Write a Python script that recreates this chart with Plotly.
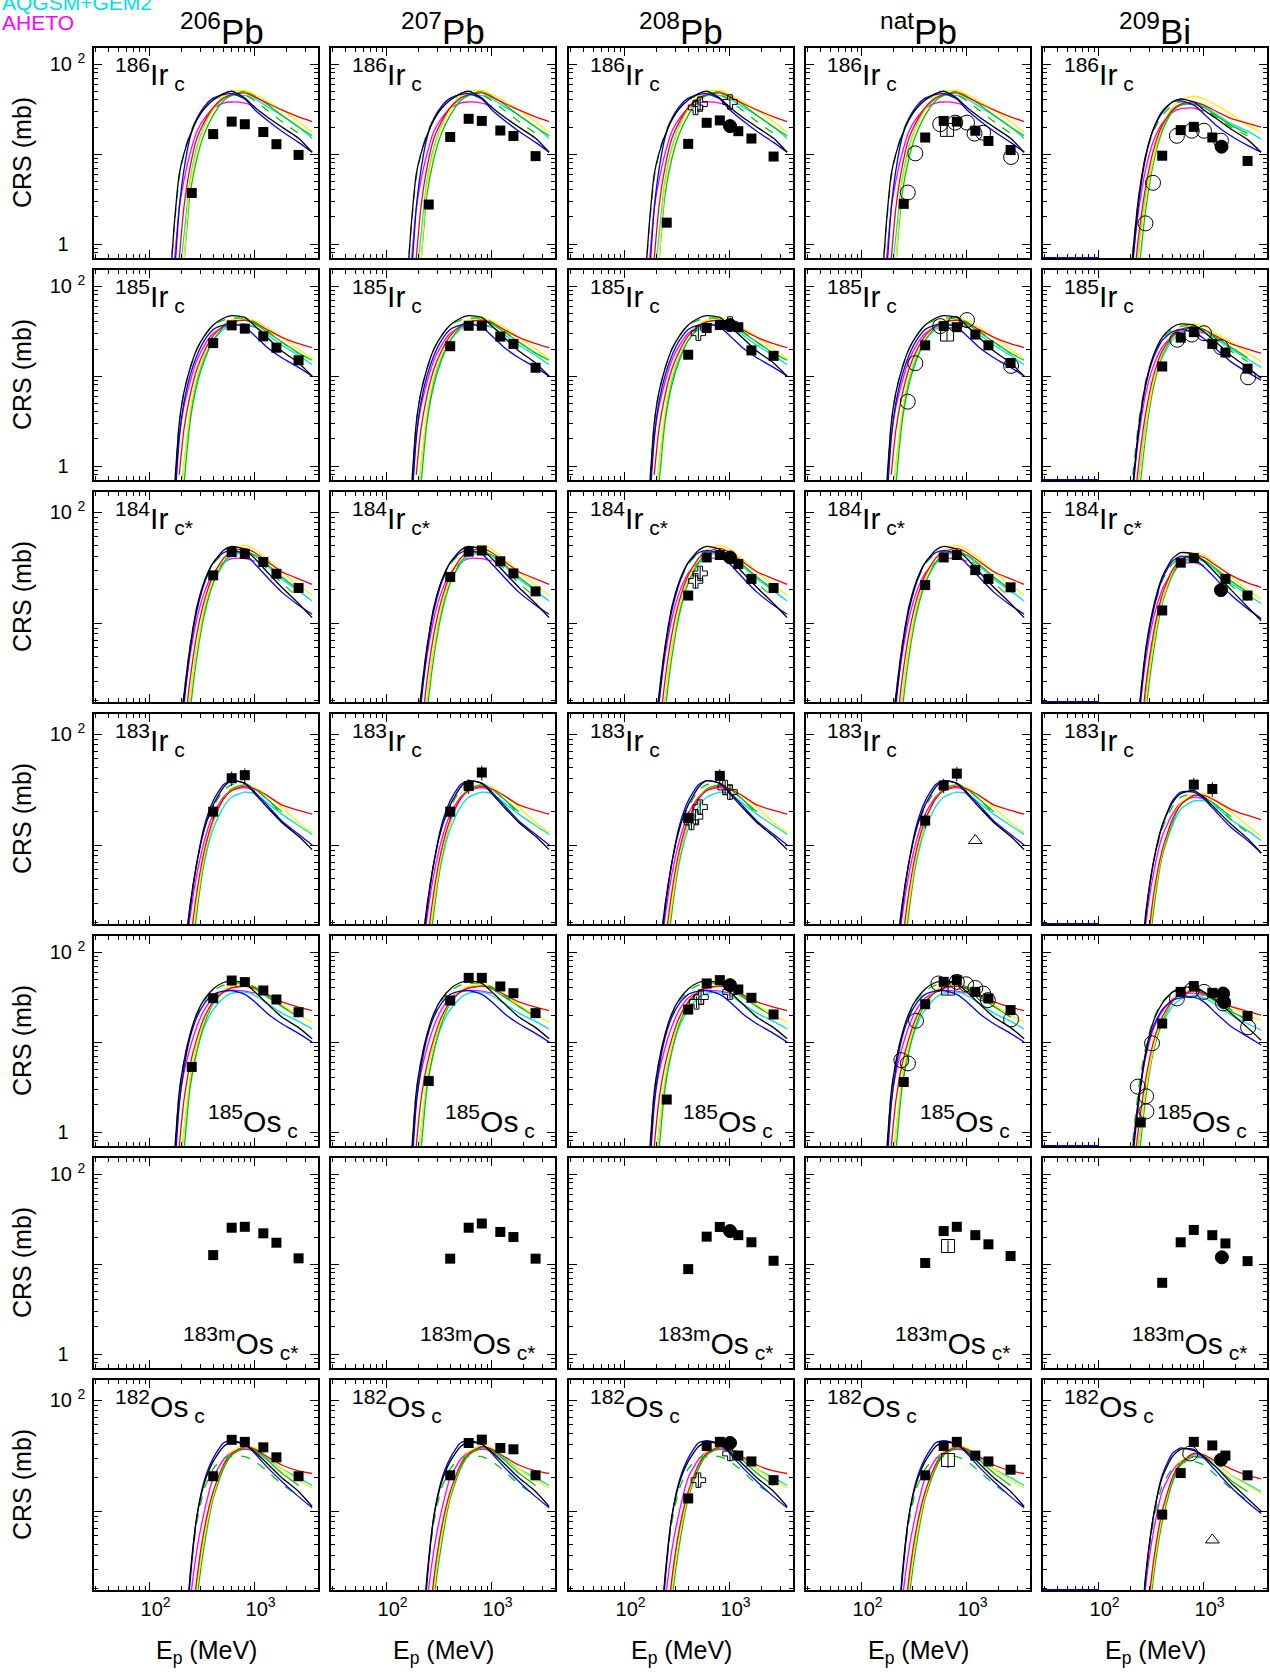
import plotly.graph_objects as go

N = None
# ---------------- data ----------------
targets = ["<sup>206</sup>Pb", "<sup>207</sup>Pb", "<sup>208</sup>Pb", "<sup>nat</sup>Pb", "<sup>209</sup>Bi"]
products = ["<sup>186</sup>Ir<sub> c</sub>", "<sup>185</sup>Ir<sub> c</sub>", "<sup>184</sup>Ir<sub> c*</sub>",
            "<sup>183</sup>Ir<sub> c</sub>", "<sup>185</sup>Os<sub> c</sub>", "<sup>183m</sup>Os<sub> c*</sub>",
            "<sup>182</sup>Os<sub> c</sub>"]
label_at_bottom = [False, False, False, False, True, True, False]
y_ranges = [[-0.155, 2.18], [-0.155, 2.18], [0.29, 2.18], [0.29, 2.18], [-0.155, 2.18], [-0.155, 2.18], [0.29, 2.18]]
x_range = [1.467, 3.6]

# model energy grid (MeV)
EG = [150, 170, 190, 210, 240, 280, 330, 400, 500, 600, 800, 1000, 1300, 1800, 2600, 3500]
model_order = ["magenta", "cyan", "green", "yellow", "red", "gdash", "blue", "black"]

ir186_pb = {
    "black":   [0.2, 1.6, 6, 10, 16, 24, 32, 40, 47, 50, 42, 33, 26, 20, 15, 10.5],
    "blue":    [0.05, 0.4, 2.5, 6.5, 15, 25, 34, 42, 46, 47, 41, 31, 24, 18, 13.5, 10.5],
    "red":     [N, 0.2, 0.7, 2.5, 7, 15, 23, 33, 42, 46, 48, 43, 37, 31, 26, 23],
    "yellow":  [N, N, 0.15, 0.6, 4.5, 11, 20, 31, 44, 50, 51, 46, 39, 31, 23, 17.3],
    "green":   [N, N, 0.2, 0.6, 3.5, 9, 17, 27, 39, 45, 50, 44, 36, 27, 20, 16],
    "cyan":    [N, 0.1, 0.4, 1.2, 5, 12, 21, 32, 41, 45, 45, 41, 34, 27, 20, 15],
    "magenta": [0.1, 0.6, 2.5, 5, 10, 18, 25, 32, 37, 38, 37, 34, N, N, N, N],
    "gdash":   [0.2, 1.5, 5.5, 10, 17, 25, 33, 40, 45, 47, 46, 39, 31, 23, 17, N],
}
ir185_pb = {
    "black":   [0.05, 0.5, 3.0, 6.5, 12, 20, 28, 37, 44, 47, 45, 36, 27, 19, 14, 10],
    "blue":    [N, 0.3, 2, 5, 10, 17, 25, 33, 37, 38, 35, 28, 21, 16, 12.5, 10],
    "red":     [N, N, 0.8, 2.5, 6, 12, 19, 28, 36, 40, 42, 39, 33, 27, 23, 20.7],
    "yellow":  [N, N, 0.3, 1.0, 4, 10, 18, 28, 37, 42, 44, 41, 35, 27, 20, 15.6],
    "green":   [N, N, 0.2, 0.6, 3, 8, 15, 25, 35, 40, 42, 38, 31, 24, 18, 15],
    "cyan":    [N, N, 0.3, 1, 3.5, 9, 16, 25, 33, 37, 38, 35, 29, 22, 17, 13.4],
    "magenta": [N, 0.4, 2.2, 4.5, 8.5, 15, 22, 30, 35, 37, 37, 35, N, N, N, N],
    "gdash":   [0.05, 0.5, 3, 6.5, 12, 20, 28, 37, 42, 44, 44, 40, 32, 24, 18, N],
}
ir184_pb = {
    "black":   [N, 0.3, 0.9, 2.2, 6, 14, 24, 35, 45, 49, 46, 38, 29, 21, 15, 11.2],
    "blue":    [N, 0.2, 0.7, 1.8, 5.5, 13, 23, 35, 43, 45, 42, 34, 26, 19, 14.5, 12],
    "red":     [N, N, 0.3, 0.9, 3, 8, 16, 27, 38, 44, 47, 43, 36, 29, 25, 22.3],
    "yellow":  [N, N, 0.15, 0.5, 2, 6, 14, 25, 38, 46, 50, 46, 38, 29, 22, 17.8],
    "green":   [N, N, 0.1, 0.3, 1.5, 5, 12, 23, 35, 42, 44, 41, 34, 26, 20, N],
    "cyan":    [N, N, 0.15, 0.5, 2, 6, 13, 23, 34, 40, 43, 40, 33, 25, 19.5, 15.8],
    "magenta": [N, 0.25, 0.8, 2, 5, 11, 19, 28, 35, 38, 38, 36, N, N, N, N],
    "gdash":   [N, 0.3, 0.9, 2.2, 6, 14, 23, 34, 42, 45, 44, 39, 31, 23, 17, N],
}
ir183_pb = {
    "black":   [N, N, 0.3, 0.9, 2.8, 7, 14, 23, 33, 38, 36, 29, 22, 16, 12, 9.1],
    "blue":    [N, N, 0.2, 0.7, 2.5, 7, 15, 25, 35, 38, 36, 30, 23, 16.5, 12.5, 10],
    "red":     [N, N, N, 0.3, 1.2, 3.8, 9, 17, 26, 31, 34, 32, 28, 23, 20.5, 19],
    "yellow":  [N, N, N, 0.2, 0.9, 3, 8, 16, 26, 31, 34, 33, 28, 22, 16, 13],
    "green":   [N, N, N, 0.15, 0.7, 2.5, 7.5, 16, 26, 32, 35, 32, 26, 20, N, N],
    "cyan":    [N, N, N, 0.2, 0.8, 2.8, 7, 14, 22, 27, 30, 29, 24, 19, 15, 12.5],
    "magenta": [N, N, 0.25, 0.8, 2.2, 5.5, 11, 19, 27, 31, 33, 31, N, N, N, N],
    "gdash":   [N, N, 0.3, 0.9, 2.8, 7, 14, 22, 31, 35, 36, 32, 26, 19, N, N],
}
os185_pb = {
    "black":   [0.05, 0.5, 2.8, 6, 12, 21, 30, 39, 46, 48, 45, 36, 27, 19, 14.5, 10.9],
    "blue":    [N, 0.3, 2, 5, 11, 19, 27, 34, 37, 37.5, 34, 28, 21, 16, 12.5, 10],
    "red":     [N, N, 0.7, 2.2, 5.5, 11, 19, 28, 36, 40, 42, 40, 34, 28, 24.5, 22.4],
    "yellow":  [N, N, 0.3, 1, 4, 9.5, 18, 28, 38, 42, 44, 41, 34, 26, 20, 16.6],
    "green":   [N, N, 0.2, 0.6, 3, 8, 16, 27, 36, 40, 42, 39, 32, 25, 19, N],
    "cyan":    [N, N, 0.3, 1, 3.5, 8, 15, 23, 31, 35, 36, 33, 27, 21, 17, 14],
    "magenta": [N, 0.4, 2.2, 4.5, 8.5, 15, 23, 31, 36, 37.5, 37, 35, N, N, N, N],
    "gdash":   [0.05, 0.5, 2.8, 6, 12, 20, 29, 37, 43, 45, 45, 41, 33, 25, 19, N],
}
os182_pb = {
    "black":   [N, N, N, 0.4, 2.5, 9, 18, 28, 38, 42, 40, 34, 27, 20, 15, 11],
    "blue":    [N, N, N, 0.3, 2.2, 9, 19, 30, 41, 43, 40, 33, 25, 18.5, 13.5, 10.7],
    "red":     [N, N, N, N, 0.6, 2.5, 7, 15, 26, 33, 38, 36, 31, 26, 23, 21.8],
    "yellow":  [N, N, N, N, 0.4, 2, 6, 14, 26, 34, 39, 37, 31, 24, 19, 16.2],
    "green":   [N, N, N, N, 0.3, 1.6, 5, 13, 24, 32, 37, 35, 29, 22, 17, N],
    "cyan":    [N, N, N, N, 0.5, 2.2, 6.5, 14, 25, 32, 38, 36, 30, 24, 20, 17],
    "magenta": [N, N, N, 0.2, 1.4, 4.5, 10, 20, 29, 34, 36, 35, N, N, N, N],
    "gdash":   [N, N, N, 0.4, 2.5, 8, 16, 24, 30, 31, 31, 28, 23, 17.5, 13.8, N],
}
ir186_bi = {
    "black":   [N, N, 0.2, 0.8, 3.5, 10, 19, 29, 38, 41, 38, 31, 25, 19, 14.5, 10.5],
    "blue":    [N, N, 0.15, 0.6, 3, 9.5, 19, 30, 38, 39, 35, 28, 21, 16, 12.5, 10.5],
    "red":     [N, N, N, 0.3, 1.3, 4.5, 11, 21, 31, 36, 38, 35, 30, 25, 22, 20],
    "yellow":  [N, N, N, 0.15, 0.8, 3.2, 9, 20, 33, 40, 44, 41, 35, 28, 21, 17.4],
    "green":   [N, N, N, 0.1, 0.5, 2.5, 8, 18, 30, 35, 36, 33, 27, 21, 17, N],
    "cyan":    [N, N, N, 0.2, 0.9, 3.5, 9, 19, 30, 35, 37, 34, 28, 22, 18, 14.7],
    "magenta": [N, N, 0.2, 0.7, 2.5, 7, 14, 22, 29, 32, 32.5, 30, N, N, N, N],
    "gdash":   [N, N, 0.2, 0.8, 3.5, 10, 18, 27, 35, 38, 37, 32, 26, 20, 16, N],
}
ir185_bi = {
    "black":   [N, N, 0.15, 0.6, 2.8, 8.5, 17, 27, 35, 38, 37, 31, 24, 17, 12.5, 9.5],
    "blue":    [N, N, 0.12, 0.5, 2.5, 8, 16, 25, 31, 33, 31, 26, 20, 14.5, 11, 9],
    "red":     [N, N, N, 0.25, 1.1, 4, 10, 19, 28, 33, 35, 33, 28, 23, 20, 18],
    "yellow":  [N, N, N, 0.12, 0.6, 2.8, 8.5, 18, 29, 35, 38, 36, 30, 24, 18, 14.5],
    "green":   [N, N, N, 0.1, 0.45, 2.3, 7.5, 17, 27, 33, 36, 33, 27, 21, 16, N],
    "cyan":    [N, N, N, 0.15, 0.7, 3, 8, 16, 25, 30, 33, 31, 26, 20, 15.5, 12.5],
    "magenta": [N, N, 0.15, 0.6, 2.2, 6.5, 13, 21, 28, 31, 32, 30, N, N, N, N],
    "gdash":   [N, N, 0.2, 0.8, 3.2, 9, 17, 26, 33, 36, 36, 32, 26, 19, 14.5, N],
}
ir184_bi = {
    "black":   [N, N, N, 0.4, 1.6, 6, 14, 26, 38, 43, 42, 36, 28, 20, 14, 10.5],
    "blue":    [N, N, N, 0.3, 1.4, 5.5, 13, 25, 36, 40, 38, 32, 25, 18, 13.5, 11],
    "red":     [N, N, N, N, 0.6, 2.8, 8, 18, 30, 37, 41, 39, 33, 27, 23, 21],
    "yellow":  [N, N, N, N, 0.35, 2, 6.5, 16, 29, 38, 43, 41, 34, 26, 20, 16.5],
    "green":   [N, N, N, N, 0.25, 1.6, 5.5, 15, 27, 35, 39, 37, 31, 24, 19, N],
    "cyan":    [N, N, N, N, 0.4, 2.2, 7, 16, 27, 34, 38, 36, 30, 23, 18, 15],
    "magenta": [N, N, N, 0.35, 1.4, 4.8, 11, 20, 29, 34, 35, 33, N, N, N, N],
    "gdash":   [N, N, N, 0.4, 1.6, 6, 13, 24, 34, 39, 40, 36, 30, 22, 16, N],
}
ir183_bi = {
    "black":   [N, N, N, N, 0.5, 2.5, 7, 15, 24, 29, 31, 27, 21, 15.5, 11.5, 8.5],
    "blue":    [N, N, N, N, 0.45, 2.3, 7, 15, 25, 30, 30, 26, 20, 14.5, 11, 8.5],
    "red":     [N, N, N, N, N, 0.9, 3.5, 9, 17, 23, 28, 28, 25, 21, 18.5, 17],
    "yellow":  [N, N, N, N, N, 0.7, 3, 8.5, 17, 24, 29, 29, 25, 20, 15, 12],
    "green":   [N, N, N, N, N, 0.5, 2.5, 8, 16, 23, 28, 27, 23, 18, N, N],
    "cyan":    [N, N, N, N, N, 0.7, 2.8, 8, 15, 21, 25, 25, 22, 17, 13.5, 11],
    "magenta": [N, N, N, N, 0.4, 2, 5.5, 12, 19, 24, 27, 26, N, N, N, N],
    "gdash":   [N, N, N, N, 0.5, 2.5, 7, 14, 22, 27, 29, 27, 23, 17, 13, N],
}
os185_bi = {
    "black":   [N, N, 0.15, 0.6, 2.5, 8, 17, 27, 36, 40, 41, 36, 29, 21, 14.5, 10.5],
    "blue":    [N, N, 0.12, 0.5, 2.2, 7.5, 15, 23, 29, 31, 31.6, 28, 21, 15, 11.5, 9.3],
    "red":     [N, N, N, 0.3, 1.2, 4, 10, 19, 29, 34, 37, 35, 30, 25, 22, 20],
    "yellow":  [N, N, N, 0.15, 0.7, 3, 8.5, 18, 29, 35, 38, 36, 31, 25, 20, 17.4],
    "green":   [N, N, N, 0.1, 0.5, 2.5, 8, 17, 28, 34, 37, 34, 28, 22, 18, N],
    "cyan":    [N, N, N, 0.2, 0.8, 3, 8, 16, 25, 30, 33, 31, 26, 20, 16, 13.6],
    "magenta": [N, N, 0.2, 0.7, 2.5, 7, 14, 22, 30, 34, 35, 33, N, N, N, N],
    "gdash":   [N, N, 0.2, 0.8, 3.2, 9, 18, 28, 36, 40, 40, 36, 30, 23, 17, N],
}
os182_bi = {
    "black":   [N, N, N, N, 0.5, 2.8, 9, 20, 31, 36, 36, 31, 25, 18, 13, 10],
    "blue":    [N, N, N, N, 0.45, 2.6, 9, 21, 33, 37, 35, 30, 23, 16.5, 12, 9.5],
    "red":     [N, N, N, N, N, 0.9, 3.5, 10, 20, 27, 33, 32, 28, 24, 21, 19.5],
    "yellow":  [N, N, N, N, N, 0.7, 3, 9, 20, 28, 33, 32, 27, 21, 17, 14.5],
    "green":   [N, N, N, N, N, 0.5, 2.5, 8, 18, 26, 31, 30, 25, 19, 15, N],
    "cyan":    [N, N, N, N, N, 0.7, 3, 9, 19, 26, 32, 31, 27, 21, 17.5, 15],
    "magenta": [N, N, N, N, 0.4, 2.2, 6.5, 15, 23, 28, 31, 30, N, N, N, N],
    "gdash":   [N, N, N, N, 0.5, 2.5, 8, 17, 24, 27, 28, 26, 21, 16, 12.5, N],
}
models_pb = [ir186_pb, ir185_pb, ir184_pb, ir183_pb, os185_pb, None, os182_pb]
models_bi = [ir186_bi, ir185_bi, ir184_bi, ir183_bi, os185_bi, None, os182_bi]

# low-energy part of a Bi model lying on the lower frame (E in MeV)
bi_floor_E = [29, 100]

# experimental data: filled squares at these energies, one list per target column
SQ_E = [250, 400, 600, 800, 1200, 1600, 2600]
sq_ir186 = [[3.7, 16.7, 23, 21.5, 17.6, 12.9, 9.8], [2.75, 15.5, 24.7, 23.4, 18.3, 15.9, 9.5],
            [1.73, 13, 22.3, 23.7, 18, 14.9, 9.4], [2.8, 15.3, 23.4, 23, 18.2, 14, 11.1],
            [N, 9.6, 18.5, 20.1, 15.3, N, 8.4]]
sq_ir185 = [[N, 23.3, 36.7, 33.7, 27.7, 20.7, 15], [N, 21.5, 36.3, 36.3, 27.5, 22.8, 12.4],
            [N, 17.3, 34.3, 37, 35, 19.3, 16.8], [N, 22, 36, 35, 29, 22, 14],
            [N, 12.8, 26.8, 30.8, 22.8, 18.3, 12.1]]
sq_ir184 = [[N, 26.9, 43.6, 42, 35.5, 27.8, 20.7], [N, 26, 44, 45, 36, 28, 19.3],
            [N, 17.7, 39, 41, 34, 25, 20.7], [N, 22, 39, 41, 30, 25, 21],
            [N, 13, 35, 38.5, N, 25, 17.7]]
sq_ir183 = [[N, 20, 40, 42.6, N, N, N], [N, 20, 34, 45, N, N, N],
            [N, 17.5, N, 42, N, N, N], [N, 16.6, 34.4, 44, N, N, N],
            [N, N, N, 35, 32, N, N]]
sq_os185 = [[5.3, 30.8, 48.4, 46.5, 37.5, 29.8, 21.5], [3.7, 29, 51.8, 51.8, 41.6, 35, 21],
            [2.3, 23, 44.9, 48.9, 38.5, 31.1, 20.3], [3.6, 26.4, 46.8, 48.9, 36.2, 30.6, 22.7],
            [1.28, 16.1, 36.2, 42, 35.3, N, 19.5]]
sq_os183m = [[N, 12.6, 25.4, 26, 22, 17.3, 11.6], [N, 11.5, 25.4, 28.3, 22.8, 20, 11.5],
             [N, 8.8, 20.2, 25.9, 21, 17.5, 10.9], [N, 10.3, 23.3, 26, 21, 16.6, 12.3],
             [N, 6.2, 17.5, 24, 21, 17, 10.8]]
sq_os182 = [[N, 20.6, 43.8, 42, 37.5, 30.5, 20.6], [N, 21, 41, 44, 37, 36, 21],
            [N, 13, 38.5, 42, 31.6, 28, 19], [N, 21, 38.5, 42, 31.6, 28, 23.6],
            [N, 9.3, 22, 42, 39, 31.6, 21]]
squares = [sq_ir186, sq_ir185, sq_ir184, sq_ir183, sq_os185, sq_os183m, sq_os182]
sq_rel_err = [0, 0, 0, 0.15, 0, 0, 0]

# other data sets: (row, column, E MeV, cross section mb)
filled_circles = [(0, 2, 1000, 20.5), (0, 4, 1470, 12.1), (1, 2, 1000, 37), (2, 2, 1000, 39),
                  (2, 4, 1450, 19.8), (4, 2, 1000, 43), (4, 4, 1520, 34.7), (4, 4, 1550, 28),
                  (5, 2, 1000, 23.3), (5, 4, 1480, 11.9), (6, 2, 1000, 41), (6, 4, 1450, 29)]
open_circles = [(0, 3, 273, 3.74), (0, 3, 322, 10.2), (0, 3, 556, 21.5), (0, 3, 772, 22.4), (0, 3, 1000, 22.4),
                (0, 3, 1180, 16.9), (0, 3, 1425, 17.3), (0, 3, 2630, 9.3),
                (0, 4, 277, 1.7), (0, 4, 327, 4.8), (0, 4, 552, 16), (0, 4, 765, 18.2), (0, 4, 1000, 18.2),
                (0, 4, 1450, 14.1),
                (1, 3, 273, 5.2), (1, 3, 322, 13.9), (1, 3, 556, 36), (1, 3, 772, 38), (1, 3, 1000, 42),
                (1, 3, 2630, 13),
                (1, 4, 556, 25.4), (1, 4, 765, 29), (1, 4, 1000, 30), (1, 4, 1450, 21), (1, 4, 2630, 9.7),
                (4, 3, 237, 6.3), (4, 3, 274, 5.8), (4, 3, 327, 17.3), (4, 3, 535, 44.9), (4, 3, 800, 46.8),
                (4, 3, 980, 44), (4, 3, 1200, 40), (4, 3, 1425, 34.7), (4, 3, 1580, 29.3), (4, 3, 2630, 17.9),
                (4, 4, 234, 3.2), (4, 4, 281, 2.5), (4, 4, 283, 1.7), (4, 4, 320, 9.7), (4, 4, 552, 30.6),
                (4, 4, 765, 37.8), (4, 4, 1000, 36.2), (4, 4, 1520, 26.9), (4, 4, 2630, 14.6),
                (6, 4, 740, 33)]
open_squares = [(0, 3, 646, 18.6), (1, 3, 646, 29), (4, 3, 660, 39.4), (5, 3, 660, 15.9), (6, 3, 660, 28.8)]
open_crosses = [(0, 2, 470, 33), (0, 2, 520, 36), (0, 2, 1000, 38), (1, 2, 500, 30), (1, 2, 1000, 38),
                (2, 2, 470, 24), (2, 2, 520, 28), (3, 2, 430, 16), (3, 2, 470, 18), (3, 2, 520, 22),
                (3, 2, 900, 33), (3, 2, 1000, 30), (4, 2, 480, 28), (4, 2, 530, 31.7), (4, 2, 1000, 36),
                (6, 2, 500, 19), (6, 2, 1000, 33)]
open_triangles = [(3, 3, 1200, 11), (6, 4, 1200, 5.5)]
open_rel_err = 0.15

# ---------------- layout ----------------
W, H = 1270, 1675
cols_left = [94, 331, 569, 806, 1043]
rows_top = [48, 270, 492, 714, 936, 1158, 1380]
PW, PH = 224, 210
FONT = "Liberation Sans, Arial, sans-serif"
NB = "\u00a0"
colors = {"black": "#000000", "blue": "#0000ff", "red": "#ff0000", "yellow": "#ffee00",
          "green": "#00c800", "cyan": "#00e0e0", "magenta": "#ff00ff", "gdash": "#00c800"}


def px(x):
    return x / W


def py(y):
    return 1 - y / H


fig = go.Figure()
layout = {}
annotations = []

x_major = [100, 1000]
x_major_text = [NB * 2 + "10<sup>2</sup>", NB * 2 + "10<sup>3</sup>"]
x_minor = [30, 40, 50, 60, 70, 80, 90, 200, 300, 400, 500, 600, 700, 800, 900, 2000, 3000]
y_major = [1, 10, 100]
y_major_text = ["1" + NB * 3, "", "10" + NB + "<sup>2</sup>"]
y_minor = [0.8, 0.9, 2, 3, 4, 5, 6, 7, 8, 9, 20, 30, 40, 50, 60, 70, 80, 90, 200]

for r in range(7):
    for c in range(5):
        k = r * 5 + c + 1
        xa = "xaxis" if k == 1 else f"xaxis{k}"
        ya = "yaxis" if k == 1 else f"yaxis{k}"
        xr = "x" if k == 1 else f"x{k}"
        yr = "y" if k == 1 else f"y{k}"
        L, T = cols_left[c], rows_top[r]
        common = dict(showline=True, linecolor="black", linewidth=1.5, mirror="allticks",
                      ticks="inside", ticklen=8, tickwidth=1, tickcolor="black",
                      showgrid=False, zeroline=False, type="log",
                      tickfont=dict(family=FONT, size=20, color="black"))
        layout[xa] = dict(common, domain=[px(L), px(L + PW)], range=x_range, anchor=yr,
                          tickmode="array", tickvals=x_major, ticktext=x_major_text,
                          showticklabels=(r == 6),
                          minor=dict(tickmode="array", tickvals=x_minor, ticks="inside",
                                     ticklen=4, tickcolor="black", tickwidth=1, showgrid=False))
        layout[ya] = dict(common, domain=[py(T + PH), py(T)], range=y_ranges[r], anchor=xr,
                          tickmode="array", tickvals=y_major, ticktext=y_major_text,
                          showticklabels=(c == 0), ticklabelstandoff=3,
                          minor=dict(tickmode="array", tickvals=y_minor, ticks="inside",
                                     ticklen=4, tickcolor="black", tickwidth=1, showgrid=False))

        # model curves
        mset = models_pb[r] if c < 4 else models_bi[r]
        if mset is not None:
            for m in model_order:
                fig.add_trace(go.Scatter(
                    x=EG, y=mset[m], mode="lines", xaxis=xr, yaxis=yr, showlegend=False,
                    line=dict(color=colors[m], width=1.3, shape="spline", smoothing=0.6,
                              dash="dash" if m == "gdash" else "solid"),
                    connectgaps=False, hoverinfo="skip"))
            if c == 4:
                ymin = 10 ** y_ranges[r][0]
                fig.add_trace(go.Scatter(x=bi_floor_E, y=[ymin] * len(bi_floor_E), mode="lines",
                                         xaxis=xr, yaxis=yr, showlegend=False,
                                         line=dict(color="#0000ff", width=2), hoverinfo="skip"))

        # filled squares
        sv = squares[r][c]
        ex = [e for e, v in zip(SQ_E, sv) if v is not None]
        ey = [v for v in sv if v is not None]
        err = dict(type="data", array=[v * sq_rel_err[r] for v in ey], visible=sq_rel_err[r] > 0,
                   color="black", thickness=1, width=0)
        fig.add_trace(go.Scatter(x=ex, y=ey, mode="markers", xaxis=xr, yaxis=yr, showlegend=False,
                                 marker=dict(symbol="square", size=10, color="black"), error_y=err))

        def pick(lst):
            pts = [(e, v) for (rr, cc, e, v) in lst if rr == r and cc == c]
            return [p[0] for p in pts], [p[1] for p in pts]

        for lst, sym, size in [(open_circles, "circle-open", 15), (open_squares, "square-open", 13),
                               (open_crosses, "cross-open", 12), (open_triangles, "triangle-up-open", 12),
                               (filled_circles, "circle", 13)]:
            xs, ys = pick(lst)
            if xs:
                errv = (sym in ("square-open", "cross-open"))
                fig.add_trace(go.Scatter(
                    x=xs, y=ys, mode="markers", xaxis=xr, yaxis=yr, showlegend=False,
                    marker=dict(symbol=sym, size=size, color="black", line=dict(color="black", width=1)),
                    error_y=dict(type="data", array=[v * open_rel_err for v in ys], visible=errv,
                                 color="black", thickness=1, width=0)))

        # panel label
        if label_at_bottom[r]:
            off = 18 if "183m" in products[r] else 18
            annotations.append(dict(text=products[r], x=px(L + PW - off), y=py(T + PH - 2),
                                    xref="paper", yref="paper", xanchor="right", yanchor="bottom",
                                    showarrow=False, font=dict(family=FONT, size=30, color="black")))
        else:
            annotations.append(dict(text=products[r], x=px(L + 19), y=py(T + 3),
                                    xref="paper", yref="paper", xanchor="left", yanchor="top",
                                    showarrow=False, font=dict(family=FONT, size=30, color="black")))

    # y axis title for the row
    annotations.append(dict(text="CRS (mb)", x=px(22), y=py(rows_top[r] + PH / 2), xref="paper", yref="paper",
                            textangle=-90, showarrow=False, xanchor="center", yanchor="middle",
                            font=dict(family=FONT, size=25, color="black")))

title_x = [222, 443, 681, 918, 1155]
for c in range(5):
    annotations.append(dict(text=targets[c], x=px(title_x[c]), y=py(29), xref="paper", yref="paper",
                            showarrow=False, xanchor="center", yanchor="middle",
                            font=dict(family=FONT, size=35, color="black")))
    annotations.append(dict(text="E<sub>p</sub> (MeV)", x=px(cols_left[c] + PW / 2), y=py(1652),
                            xref="paper", yref="paper", showarrow=False, xanchor="center", yanchor="middle",
                            font=dict(family=FONT, size=25, color="black")))

annotations.append(dict(text="AQGSM+GEM2", x=0, y=py(3), xref="paper", yref="paper", showarrow=False,
                        xanchor="left", yanchor="middle", font=dict(family=FONT, size=21, color="#00e0e0")))
annotations.append(dict(text="AHETO", x=0, y=py(23), xref="paper", yref="paper", showarrow=False,
                        xanchor="left", yanchor="middle", font=dict(family=FONT, size=21, color="#ff00ff")))

fig.update_layout(width=W, height=H, margin=dict(l=0, r=0, t=0, b=0), paper_bgcolor="white",
                  plot_bgcolor="white", showlegend=False, annotations=annotations, **layout)
fig.write_html("out.html", config={"displayModeBar": False},
               post_script="document.body.style.margin='0px';")
